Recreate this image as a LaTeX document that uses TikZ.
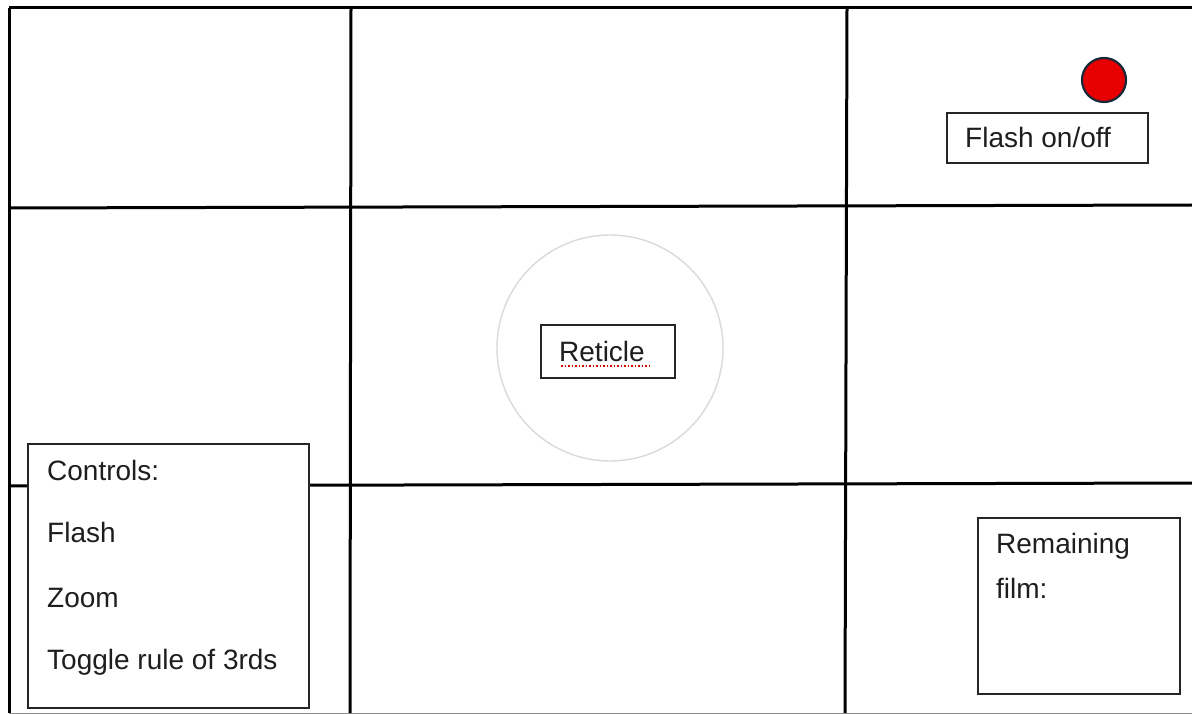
\documentclass[tikz,border=0pt]{standalone}
\usepackage{fontspec}
\setmainfont{Liberation Sans}
\definecolor{txt}{HTML}{1E1E1E}
\definecolor{flashred}{HTML}{E80000}
\definecolor{flashedge}{HTML}{15283A}
\definecolor{reticlegray}{HTML}{DADADA}
\tikzset{
  gridline/.style={line width=3pt, black},
  boxnode/.style={draw=black!85, line width=1.6pt, fill=white, rectangle, inner sep=0pt, anchor=north west},
  lbl/.style={anchor=base west, inner sep=0pt, text=txt, font=\fontsize{28}{34}\selectfont},
}
\begin{document}
\begin{tikzpicture}[x=1pt,y=-1pt]
\useasboundingbox (0,0) rectangle (1192,714);
\fill[white] (0,0) rectangle (1192,714);
% grid
\draw[gridline] (9,8) -- (1192,8);
\draw[gridline] (9,8) -- (9,713);
\draw[black!45, line width=1pt] (9,713) -- (1192,713);
\draw[gridline] (351,8) -- (350,713);
\draw[gridline] (847,8) -- (845,713);
\draw[gridline] (9,208) -- (1192,205);
\draw[gridline] (9,486) -- (1192,483);
% reticle circle
\node[circle, draw=reticlegray, line width=1.4pt, minimum size=226pt, inner sep=0pt] (retcircle) at (610,348) {};
% reticle box
\node[boxnode, minimum width=134pt, minimum height=53pt] (retbox) at (540,324) {};
\node[lbl] (rettext) at (559,361) {Reticle};
\draw[red!85!black, line width=1.3pt, dash pattern=on 1.5pt off 2pt] (561,366) -- (651,366);
% flash
\node[circle, fill=flashred, draw=flashedge, line width=2.2pt, minimum size=44pt, inner sep=0pt] (flashdot) at (1104,80) {};
\node[boxnode, minimum width=201pt, minimum height=50pt] (flashbox) at (946,112) {};
\node[lbl] (flashtext) at (965,148) {Flash on/off};
% controls
\node[boxnode, minimum width=281pt, minimum height=264pt] (ctrlbox) at (27,443) {};
\node[lbl] (c1) at (47,480) {Controls:};
\node[lbl] (c2) at (47,542) {Flash};
\node[lbl] (c3) at (47,607) {Zoom};
\node[lbl] (c4) at (47,669) {Toggle rule of 3rds};
% remaining film
\node[boxnode, minimum width=202pt, minimum height=176pt] (filmbox) at (977,517) {};
\node[lbl] (f1) at (996,553) {Remaining};
\node[lbl] (f2) at (996,598) {film:};
\end{tikzpicture}
\end{document}
